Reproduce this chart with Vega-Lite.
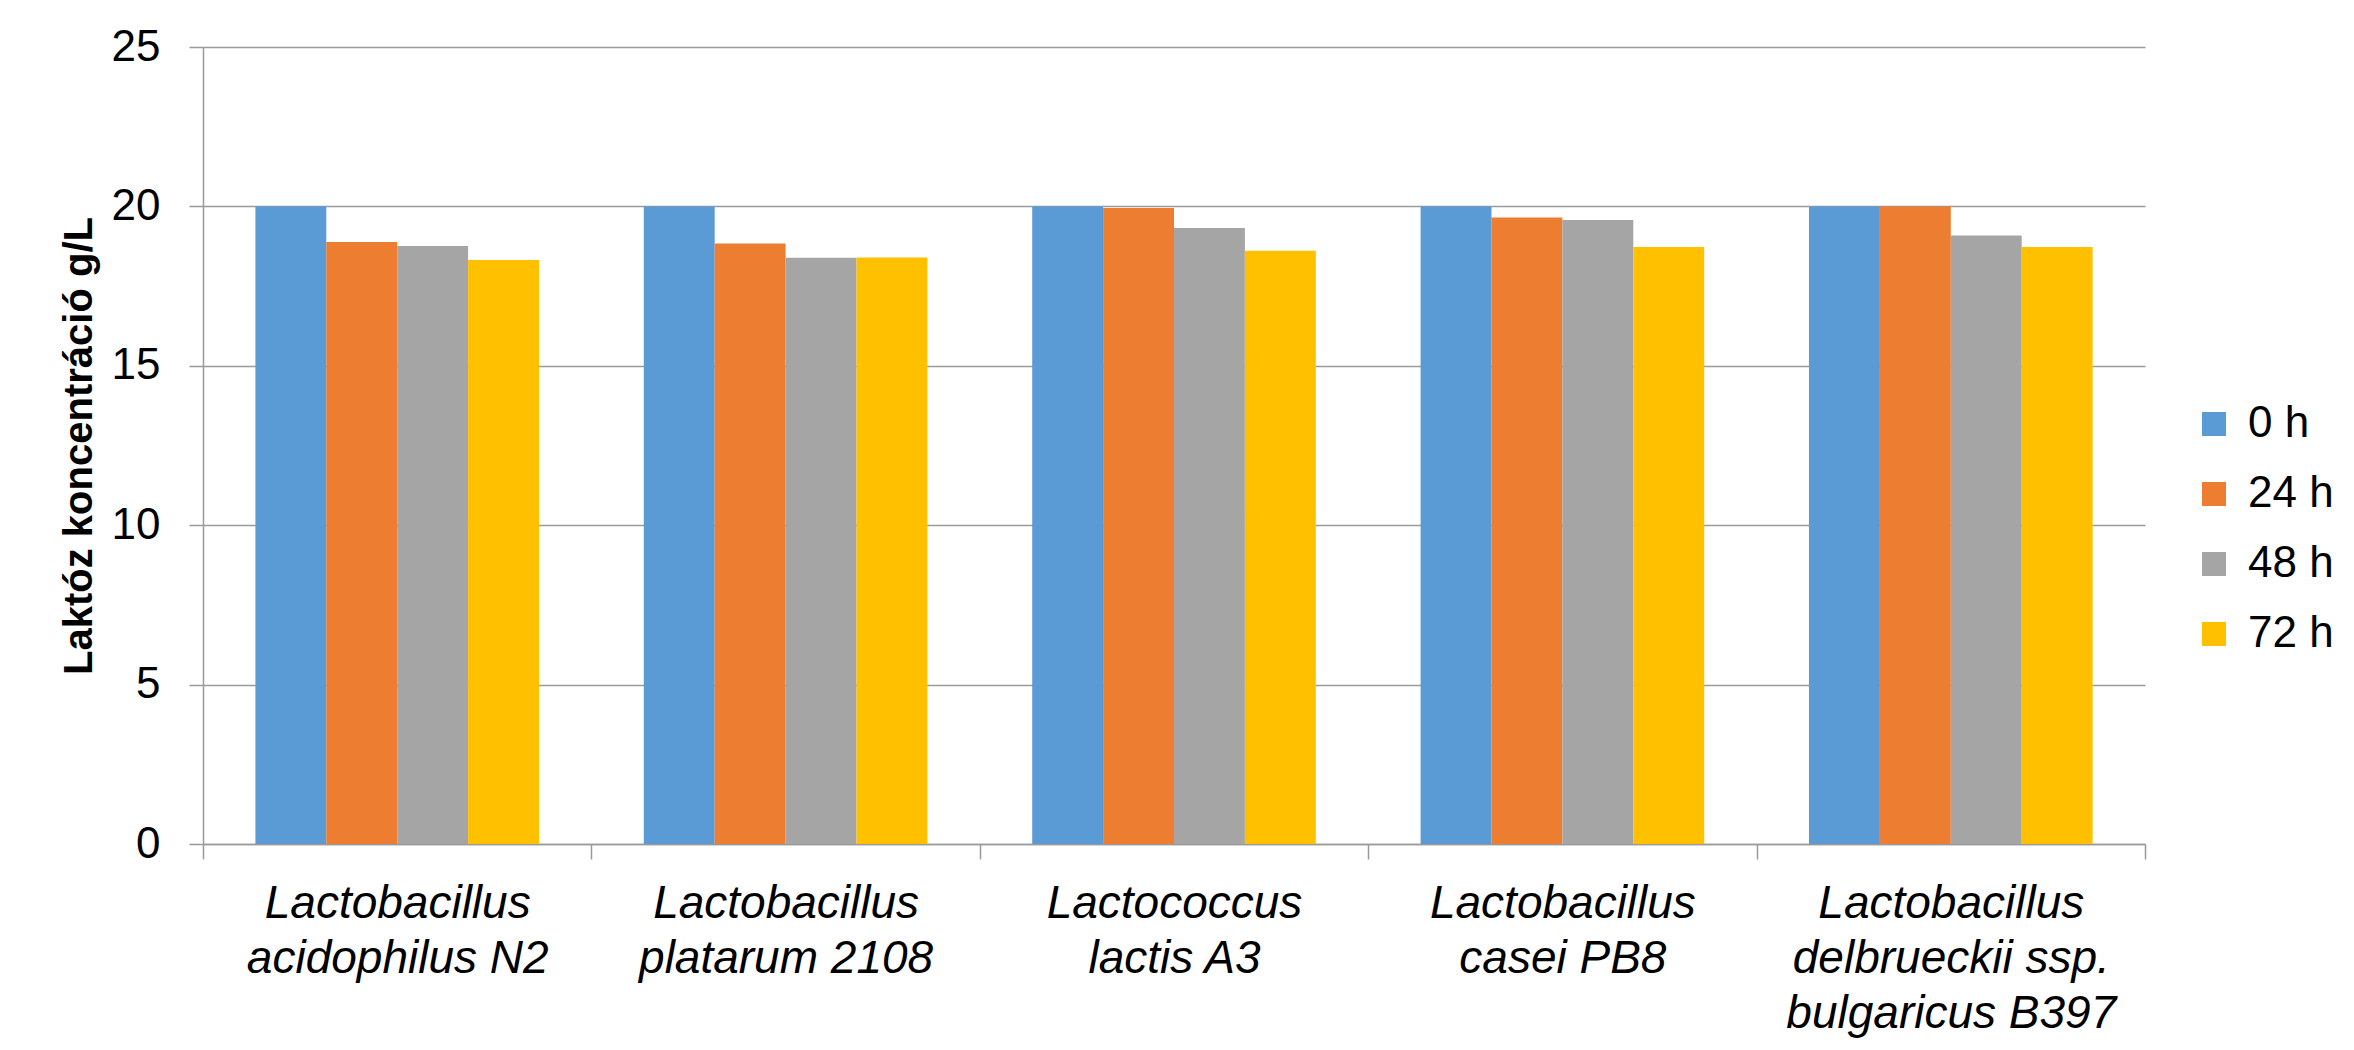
{
  "$schema": "https://vega.github.io/schema/vega-lite/v6.json",
  "width": 1942,
  "height": 797,
  "autosize": {"type": "none"},
  "padding": {"left": 203, "top": 47, "right": 209, "bottom": 206},
  "background": "white",
  "data": {
    "values": [
      {"strain": "Lactobacillus\nacidophilus N2", "time": "0 h", "value": 20.0},
      {"strain": "Lactobacillus\nacidophilus N2", "time": "24 h", "value": 18.88},
      {"strain": "Lactobacillus\nacidophilus N2", "time": "48 h", "value": 18.76},
      {"strain": "Lactobacillus\nacidophilus N2", "time": "72 h", "value": 18.32},
      {"strain": "Lactobacillus\nplatarum 2108", "time": "0 h", "value": 20.0},
      {"strain": "Lactobacillus\nplatarum 2108", "time": "24 h", "value": 18.84},
      {"strain": "Lactobacillus\nplatarum 2108", "time": "48 h", "value": 18.39},
      {"strain": "Lactobacillus\nplatarum 2108", "time": "72 h", "value": 18.4},
      {"strain": "Lactococcus\nlactis A3", "time": "0 h", "value": 20.0},
      {"strain": "Lactococcus\nlactis A3", "time": "24 h", "value": 19.95},
      {"strain": "Lactococcus\nlactis A3", "time": "48 h", "value": 19.32},
      {"strain": "Lactococcus\nlactis A3", "time": "72 h", "value": 18.61},
      {"strain": "Lactobacillus\ncasei PB8", "time": "0 h", "value": 20.0},
      {"strain": "Lactobacillus\ncasei PB8", "time": "24 h", "value": 19.65},
      {"strain": "Lactobacillus\ncasei PB8", "time": "48 h", "value": 19.57},
      {"strain": "Lactobacillus\ncasei PB8", "time": "72 h", "value": 18.73},
      {"strain": "Lactobacillus\ndelbrueckii ssp.\nbulgaricus B397", "time": "0 h", "value": 20.0},
      {"strain": "Lactobacillus\ndelbrueckii ssp.\nbulgaricus B397", "time": "24 h", "value": 20.0},
      {"strain": "Lactobacillus\ndelbrueckii ssp.\nbulgaricus B397", "time": "48 h", "value": 19.09},
      {"strain": "Lactobacillus\ndelbrueckii ssp.\nbulgaricus B397", "time": "72 h", "value": 18.73}
    ]
  },
  "mark": {"type": "bar"},
  "encoding": {
    "x": {
      "field": "strain",
      "type": "nominal",
      "sort": null,
      "scale": {"paddingInner": 0, "paddingOuter": 0},
      "axis": {
        "title": null,
        "labelAngle": 0,
        "labelFont": "Liberation Sans",
        "labelFontStyle": "italic",
        "labelFontSize": 46,
        "labelColor": "black",
        "labelLineHeight": 55,
        "labelPadding": 22,
        "labelLimit": 2000,
        "labelOverlap": false,
        "labelExpr": "split(datum.label, '\\n')",
        "tickBand": "extent",
        "tickSize": 15,
        "tickColor": "#9a9a9a",
        "tickWidth": 1.5,
        "domainColor": "#9a9a9a",
        "domainWidth": 1.5
      }
    },
    "xOffset": {
      "field": "time",
      "type": "nominal",
      "sort": ["0 h", "24 h", "48 h", "72 h"],
      "scale": {"paddingInner": 0, "paddingOuter": 0.739}
    },
    "y": {
      "field": "value",
      "type": "quantitative",
      "scale": {"domain": [0, 25]},
      "axis": {
        "title": "Laktóz koncentráció g/L",
        "titleFont": "Liberation Sans",
        "titleFontSize": 40,
        "titleFontWeight": "bold",
        "titleColor": "black",
        "titlePadding": 12,
        "values": [0, 5, 10, 15, 20, 25],
        "labelFont": "Liberation Sans",
        "labelFontSize": 44,
        "labelColor": "black",
        "labelPadding": 29,
        "tickSize": 14,
        "tickColor": "#9a9a9a",
        "tickWidth": 1.5,
        "domainColor": "#9a9a9a",
        "domainWidth": 1.5,
        "grid": true,
        "gridColor": "#9a9a9a",
        "gridWidth": 1.5
      }
    },
    "color": {
      "field": "time",
      "type": "nominal",
      "sort": ["0 h", "24 h", "48 h", "72 h"],
      "scale": {
        "domain": ["0 h", "24 h", "48 h", "72 h"],
        "range": ["#5B9BD5", "#ED7D31", "#A5A5A5", "#FFC000"]
      },
      "legend": {
        "title": null,
        "orient": "none",
        "legendX": 1989,
        "legendY": 355,
        "padding": 0,
        "symbolType": "square",
        "symbolSize": 576,
        "symbolStrokeWidth": 0,
        "labelFont": "Liberation Sans",
        "labelFontSize": 44,
        "labelColor": "black",
        "labelOffset": 12,
        "rowPadding": 26
      }
    }
  },
  "config": {
    "view": {"stroke": null},
    "font": "Liberation Sans"
  }
}
